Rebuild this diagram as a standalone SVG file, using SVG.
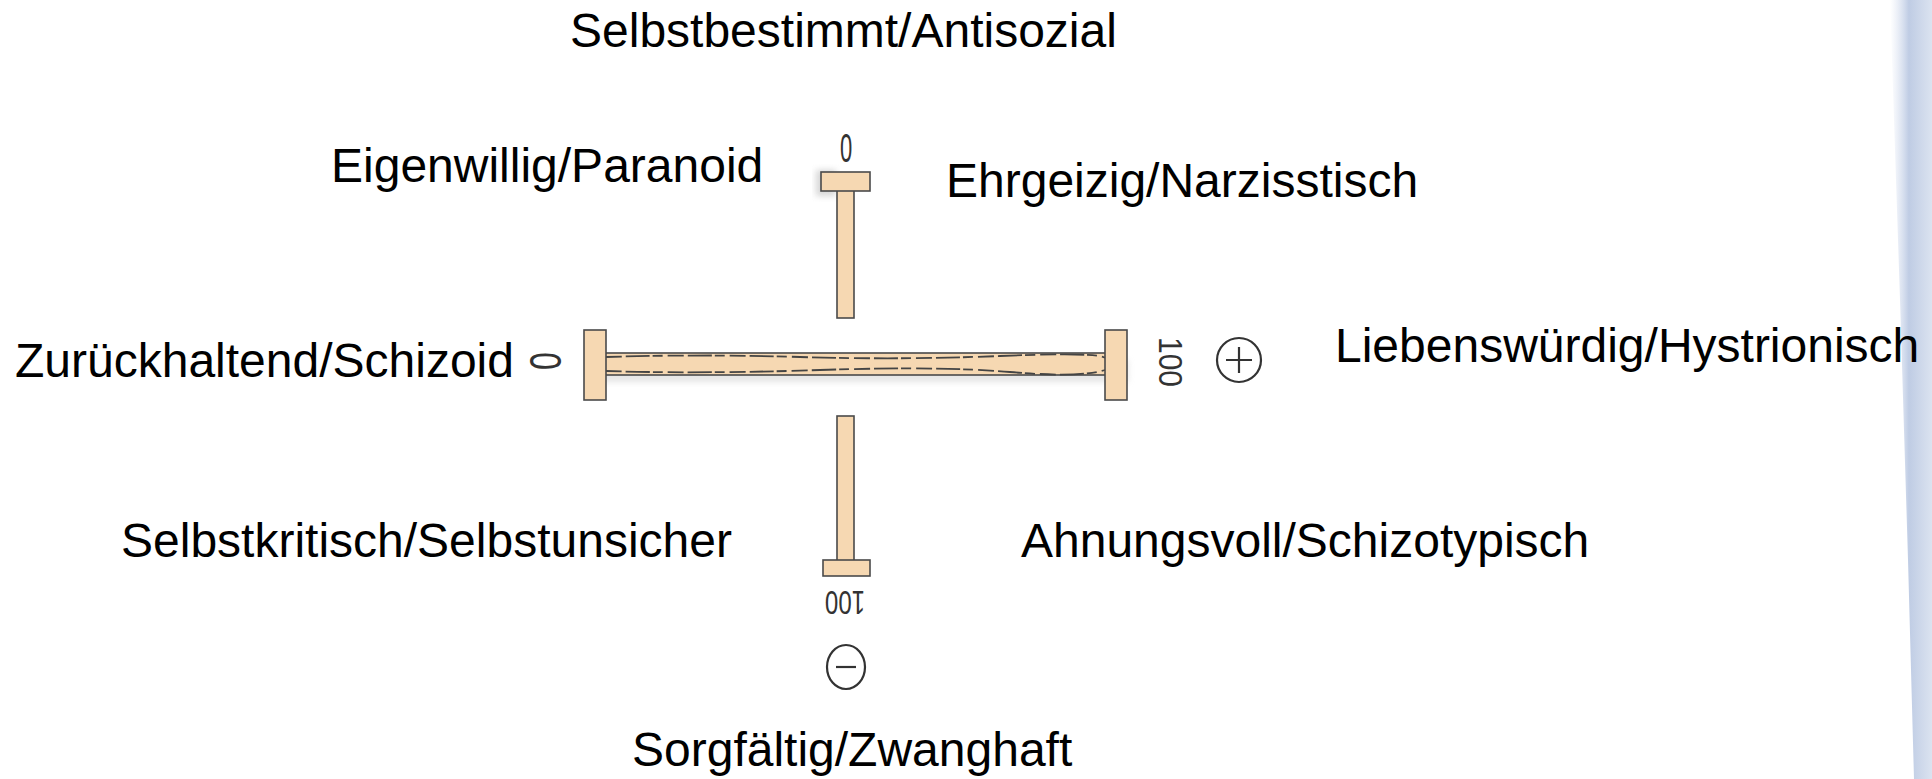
<svg xmlns="http://www.w3.org/2000/svg" width="1932" height="779" viewBox="0 0 1932 779">
<defs>
<style>
.lbl{font-family:"Liberation Sans",Arial,sans-serif;font-size:48px;fill:#000}
.num{font-family:"Liberation Sans",Arial,sans-serif;font-size:40px;fill:#333}
.bar{fill:#f6d8b2;stroke:#4a4a4a;stroke-width:1.6}
.edge{fill:none;stroke:#444;stroke-width:1.8;stroke-dasharray:16 4 24 3 10 5}
.sym{fill:none;stroke:#333;stroke-width:2.2}
</style>
<linearGradient id="blue" x1="0" y1="0" x2="1" y2="0">
<stop offset="0" stop-color="#d6dff0" stop-opacity="0"/>
<stop offset="0.45" stop-color="#bfcce4"/>
<stop offset="1" stop-color="#dbe3f0"/>
</linearGradient>
<filter id="sh" x="-20%" y="-20%" width="140%" height="140%">
<feGaussianBlur stdDeviation="3"/>
</filter>
</defs>
<rect width="1932" height="779" fill="#fff"/>
<path d="M1890,0 L1932,0 L1932,779 L1914,779 L1908,560 L1900,300 Z" fill="url(#blue)"/>

<g id="axes">
<g id="axis-horizontal">
<rect x="588" y="360" width="540" height="22" fill="#ccc" opacity="0.5" filter="url(#sh)"/>
<rect class="bar" x="604" y="353" width="503" height="22"/>
<path class="edge" d="M606,357 Q700,354 800,357 T1000,356 T1105,358"/>
<path class="edge" d="M606,371 Q700,374 820,370 T1010,372 T1105,370"/>
<rect class="bar" x="584" y="330" width="22" height="70"/>
<rect class="bar" x="1105" y="330" width="22" height="70"/>
</g>
<g id="axis-top">
<rect x="816" y="170" width="20" height="26" fill="#bbb" opacity="0.6" filter="url(#sh)"/>
<rect class="bar" x="837" y="190" width="17" height="128"/>
<rect class="bar" x="821" y="172" width="49" height="19"/>
</g>
<g id="axis-bottom">
<rect class="bar" x="837" y="416" width="17" height="146"/>
<rect class="bar" x="823" y="560" width="47" height="16"/>
</g>
</g>

<g id="scale-marks">
<text class="num" transform="translate(846,162) scale(0.55,1)" text-anchor="middle">0</text>
<text class="num" transform="translate(546,361) rotate(-90) scale(0.8,1.1)" text-anchor="middle" dy="14">0</text>
<text class="num" transform="translate(1171,362) rotate(90) scale(0.75,0.85)" text-anchor="middle" dy="14">100</text>
<text class="num" transform="translate(845,603) rotate(180) scale(0.6,0.85)" text-anchor="middle" dy="14">100</text>
</g>

<g id="sign-plus">
<ellipse class="sym" cx="1239" cy="360" rx="22" ry="22"/>
<path class="sym" d="M1226,360 H1252 M1239,347 V373"/>
</g>
<g id="sign-minus">
<ellipse class="sym" cx="846" cy="667" rx="19" ry="22"/>
<path class="sym" d="M836,667 H856"/>
</g>

<g id="label-top"><text class="lbl" x="570" y="47">Selbstbestimmt/Antisozial</text></g>
<g id="label-topleft"><text class="lbl" x="331" y="182">Eigenwillig/Paranoid</text></g>
<g id="label-topright"><text class="lbl" x="946" y="197">Ehrgeizig/Narzisstisch</text></g>
<g id="label-left"><text class="lbl" x="15" y="377">Zurückhaltend/Schizoid</text></g>
<g id="label-right"><text class="lbl" x="1335" y="362">Liebenswürdig/Hystrionisch</text></g>
<g id="label-bottomleft"><text class="lbl" x="121" y="557">Selbstkritisch/Selbstunsicher</text></g>
<g id="label-bottomright"><text class="lbl" x="1021" y="557">Ahnungsvoll/Schizotypisch</text></g>
<g id="label-bottom"><text class="lbl" x="632" y="766">Sorgfältig/Zwanghaft</text></g>
</svg>
